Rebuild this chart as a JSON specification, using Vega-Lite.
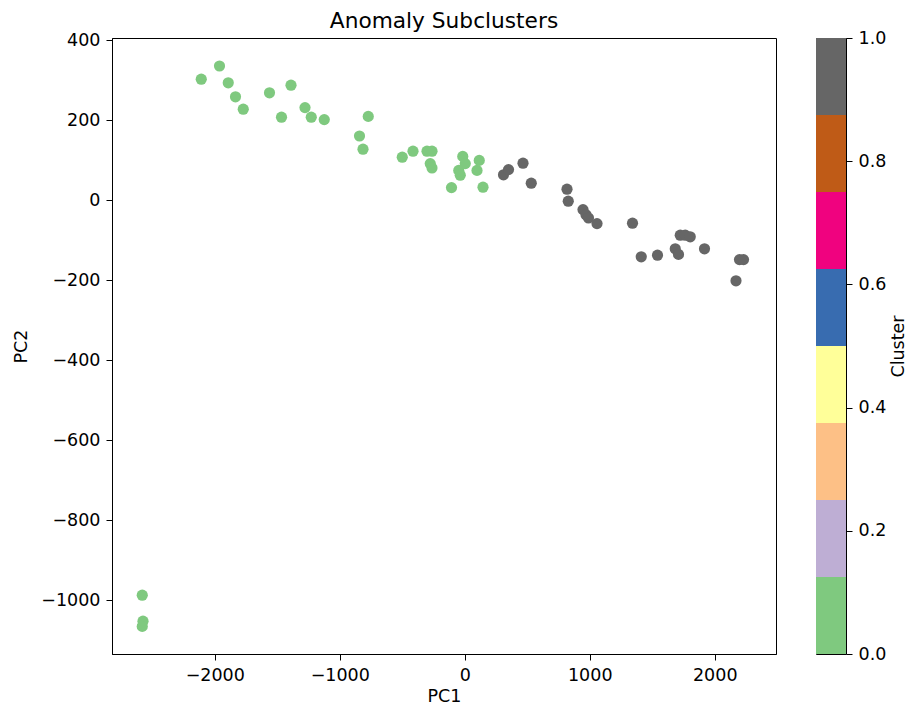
{
  "$schema": "https://vega.github.io/schema/vega-lite/v6.json",
  "background": "white",
  "padding": {"left": 12, "top": 10, "right": 0, "bottom": 0},
  "config": {
    "font": "DejaVu Sans",
    "view": {"stroke": "black", "strokeWidth": 1},
    "axis": {
      "grid": false,
      "domainColor": "black",
      "tickColor": "black",
      "tickSize": 6,
      "labelPadding": 6,
      "labelColor": "black",
      "titleColor": "black",
      "labelFontSize": 17.5,
      "titleFontSize": 17.5,
      "titleFontWeight": "normal",
      "labelFont": "DejaVu Sans",
      "titleFont": "DejaVu Sans"
    }
  },
  "spacing": 38,
  "hconcat": [
    {
      "width": 664,
      "height": 616,
      "title": {"text": "Anomaly Subclusters", "fontSize": 21.7, "fontWeight": "normal", "font": "DejaVu Sans", "color": "black", "offset": -2},
      "data": {"values": [
        {"PC1": -2108, "PC2": 302, "cluster": 0},
        {"PC1": -1962, "PC2": 335, "cluster": 0},
        {"PC1": -1892, "PC2": 293, "cluster": 0},
        {"PC1": -1834, "PC2": 258, "cluster": 0},
        {"PC1": -1772, "PC2": 227, "cluster": 0},
        {"PC1": -1562, "PC2": 268, "cluster": 0},
        {"PC1": -1390, "PC2": 287, "cluster": 0},
        {"PC1": -1466, "PC2": 207, "cluster": 0},
        {"PC1": -1278, "PC2": 231, "cluster": 0},
        {"PC1": -1228, "PC2": 207, "cluster": 0},
        {"PC1": -1124, "PC2": 201, "cluster": 0},
        {"PC1": -772, "PC2": 209, "cluster": 0},
        {"PC1": -842, "PC2": 160, "cluster": 0},
        {"PC1": -814, "PC2": 127, "cluster": 0},
        {"PC1": -500, "PC2": 107, "cluster": 0},
        {"PC1": -414, "PC2": 122, "cluster": 0},
        {"PC1": -302, "PC2": 122, "cluster": 0},
        {"PC1": -262, "PC2": 122, "cluster": 0},
        {"PC1": -276, "PC2": 91, "cluster": 0},
        {"PC1": -262, "PC2": 80, "cluster": 0},
        {"PC1": -16, "PC2": 109, "cluster": 0},
        {"PC1": 4, "PC2": 91, "cluster": 0},
        {"PC1": -48, "PC2": 74, "cluster": 0},
        {"PC1": -36, "PC2": 62, "cluster": 0},
        {"PC1": -106, "PC2": 31, "cluster": 0},
        {"PC1": 116, "PC2": 99, "cluster": 0},
        {"PC1": 98, "PC2": 74, "cluster": 0},
        {"PC1": 146, "PC2": 32, "cluster": 0},
        {"PC1": -2580, "PC2": -988, "cluster": 0},
        {"PC1": -2574, "PC2": -1053, "cluster": 0},
        {"PC1": -2580, "PC2": -1066, "cluster": 0},
        {"PC1": 310, "PC2": 63, "cluster": 1},
        {"PC1": 350, "PC2": 76, "cluster": 1},
        {"PC1": 466, "PC2": 92, "cluster": 1},
        {"PC1": 532, "PC2": 42, "cluster": 1},
        {"PC1": 818, "PC2": 27, "cluster": 1},
        {"PC1": 828, "PC2": -3, "cluster": 1},
        {"PC1": 946, "PC2": -24, "cluster": 1},
        {"PC1": 970, "PC2": -37, "cluster": 1},
        {"PC1": 990, "PC2": -45, "cluster": 1},
        {"PC1": 1058, "PC2": -59, "cluster": 1},
        {"PC1": 1342, "PC2": -58, "cluster": 1},
        {"PC1": 1412, "PC2": -142, "cluster": 1},
        {"PC1": 1542, "PC2": -138, "cluster": 1},
        {"PC1": 1724, "PC2": -88, "cluster": 1},
        {"PC1": 1764, "PC2": -88, "cluster": 1},
        {"PC1": 1804, "PC2": -92, "cluster": 1},
        {"PC1": 1684, "PC2": -122, "cluster": 1},
        {"PC1": 1710, "PC2": -136, "cluster": 1},
        {"PC1": 1918, "PC2": -122, "cluster": 1},
        {"PC1": 2198, "PC2": -149, "cluster": 1},
        {"PC1": 2230, "PC2": -149, "cluster": 1},
        {"PC1": 2170, "PC2": -202, "cluster": 1}
      ]},
      "mark": {"type": "circle", "size": 125, "opacity": 1},
      "encoding": {
        "x": {"field": "PC1", "type": "quantitative",
              "scale": {"domain": [-2822, 2490], "nice": false, "zero": false},
              "axis": {"values": [-2000, -1000, 0, 1000, 2000], "format": "d", "title": "PC1", "titlePadding": 4}},
        "y": {"field": "PC2", "type": "quantitative",
              "scale": {"domain": [-1135, 405], "nice": false, "zero": false},
              "axis": {"values": [-1000, -800, -600, -400, -200, 0, 200, 400], "format": "d", "title": "PC2", "titlePadding": 10}},
        "color": {"field": "cluster", "type": "quantitative",
                  "scale": {"type": "quantize", "domain": [0, 1], "range": ["#7fc97f", "#beaed4", "#fdc086", "#ffff99", "#386cb0", "#f0027f", "#bf5b17", "#666666"]},
                  "legend": null}
      }
    },
    {
      "width": 30,
      "height": 616,
      "data": {"values": [
        {"lo": 0.0, "hi": 0.125, "mid": 0.0625},
        {"lo": 0.125, "hi": 0.25, "mid": 0.1875},
        {"lo": 0.25, "hi": 0.375, "mid": 0.3125},
        {"lo": 0.375, "hi": 0.5, "mid": 0.4375},
        {"lo": 0.5, "hi": 0.625, "mid": 0.5625},
        {"lo": 0.625, "hi": 0.75, "mid": 0.6875},
        {"lo": 0.75, "hi": 0.875, "mid": 0.8125},
        {"lo": 0.875, "hi": 1.0, "mid": 0.9375}
      ]},
      "mark": {"type": "rect"},
      "encoding": {
        "x": {"value": 0},
        "x2": {"value": 30},
        "y": {"field": "lo", "type": "quantitative",
              "scale": {"domain": [0, 1], "nice": false, "zero": false},
              "axis": {"orient": "right", "values": [0, 0.2, 0.4, 0.6, 0.8, 1.0], "format": ".1f", "title": "Cluster", "titleAngle": 270, "titleBaseline": "top", "titlePadding": 4, "domain": false}},
        "y2": {"field": "hi"},
        "color": {"field": "mid", "type": "quantitative",
                  "scale": {"type": "quantize", "domain": [0, 1], "range": ["#7fc97f", "#beaed4", "#fdc086", "#ffff99", "#386cb0", "#f0027f", "#bf5b17", "#666666"]},
                  "legend": null}
      }
    }
  ],
  "resolve": {"scale": {"color": "independent"}}
}
